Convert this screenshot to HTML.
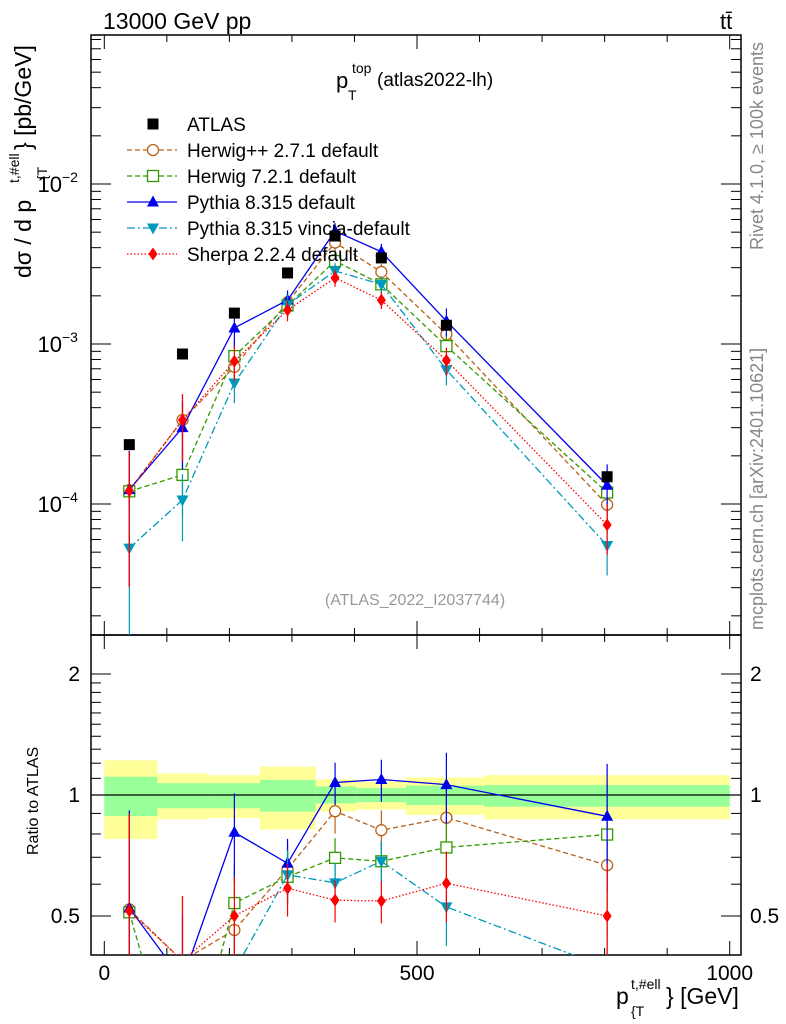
<!DOCTYPE html>
<html><head><meta charset="utf-8"><style>
html,body{margin:0;padding:0;background:#fff;overflow:hidden;width:786px;height:1024px}
svg{display:block;font-family:"Liberation Sans",sans-serif}
</style></head><body>
<svg id="c" width="786" height="1024" viewBox="0 0 786 1024">
<defs>
<clipPath id="cm"><rect x="91" y="35" width="650" height="600"/></clipPath>
<clipPath id="cr"><rect x="91" y="635" width="650" height="320"/></clipPath>
</defs>
<text x="103" y="29" font-size="23">13000 GeV pp</text>
<text x="720" y="29" font-size="22">tt̄</text>
<g>
<text x="336" y="88" font-size="22">p</text>
<text x="352" y="73" font-size="14">top</text>
<text x="348" y="100" font-size="14">T</text>
<text x="377" y="86" font-size="19">(atlas2022-lh)</text>
</g>
<text transform="translate(763,250) rotate(-90)" font-size="18" fill="#888">Rivet 4.1.0, ≥ 100k events</text>
<text transform="translate(763,630) rotate(-90)" font-size="18" fill="#888">mcplots.cern.ch [arXiv:2401.10621]</text>
<text x="415" y="605" font-size="16" fill="#999" text-anchor="middle">(ATLAS_2022_I2037744)</text>
<g>
<text transform="translate(31,278) rotate(-90)" font-size="23">dσ / d p</text>
<text transform="translate(31,150) rotate(-90)" font-size="23">} [pb/GeV]</text>
<text transform="translate(19,183) rotate(-90)" font-size="14">t,#ell</text>
<text transform="translate(47,180) rotate(-90)" font-size="14">{T</text>
</g>
<text transform="translate(38,855) rotate(-90)" font-size="16">Ratio to ATLAS</text>
<g>
<text x="616" y="1004" font-size="23">p</text>
<text x="631" y="989" font-size="14">t,#ell</text>
<text x="631" y="1016" font-size="14">{T</text>
<text x="666" y="1004" font-size="23">} [GeV]</text>
</g>
<g id="bands"></g><g id="axes"></g><g id="series"></g><g id="legend"></g>
</svg>
<script>
const xCenters=[40,125,208,293,369,443,547,804];
const binEdges=[0,85,166,249,338,403,482,607,1000];
const atlas=[2.35e-4,8.66e-4,1.56e-3,2.78e-3,4.73e-3,3.45e-3,1.31e-3,1.48e-4];
const herwigpp=[1.22e-4,3.35e-4,7.2e-4,1.82e-3,4.31e-3,2.82e-3,1.15e-3,9.9e-5];
const herwig7=[1.2e-4,1.52e-4,8.4e-4,1.74e-3,3.3e-3,2.36e-3,9.7e-4,1.18e-4];
const pythia=[1.23e-4,3.0e-4,1.26e-3,1.88e-3,5.08e-3,3.77e-3,1.39e-3,1.31e-4];
const vincia=[5.3e-5,1.06e-4,5.7e-4,1.76e-3,2.86e-3,2.36e-3,6.9e-4,5.5e-5];
const sherpa=[1.21e-4,3.35e-4,7.8e-4,1.63e-3,2.59e-3,1.88e-3,7.9e-4,7.4e-5];
const mcRelErr=[0.75,0.45,0.25,0.15,0.12,0.12,0.2,0.35];
const bandOuterHi=[1.22,1.13,1.12,1.176,1.094,1.08,1.106,1.12];
const bandOuterLo=[0.777,0.87,0.876,0.82,0.91,0.92,0.892,0.87];
const bandInnerHi=[1.11,1.07,1.07,1.09,1.05,1.04,1.055,1.059];
const bandInnerLo=[0.886,0.927,0.927,0.909,0.953,0.96,0.944,0.935];
const yTickLabels=["10","10","10"];
const NS="http://www.w3.org/2000/svg";
const X=v=>104.3+v*0.6254;
const Y=v=>344-(Math.log10(v)+3)*160;
const R=v=>795-Math.log10(v)*402;
function mk(tag,attrs,parent){const e=document.createElementNS(NS,tag);for(const k in attrs)e.setAttribute(k,attrs[k]);parent.appendChild(e);return e;}
const bands=document.getElementById('bands'),axes=document.getElementById('axes'),ser=document.getElementById('series'),leg=document.getElementById('legend');
for(let i=0;i<atlas.length;i++){
 const x0=X(binEdges[i]),x1=X(binEdges[i+1]);
 let b=mk('rect',{x:x0,y:R(bandOuterHi[i]),width:x1-x0,height:R(bandOuterLo[i])-R(bandOuterHi[i]),fill:'#ffff99'},bands);
 
 
 b=mk('rect',{x:x0,y:R(bandInnerHi[i]),width:x1-x0,height:R(bandInnerLo[i])-R(bandInnerHi[i]),fill:'#99ff99'},bands);
 
 
}
let l1=mk('line',{x1:91,x2:741,y1:R(1),y2:R(1),stroke:'#000','stroke-width':1.2},bands);


let f=mk('rect',{x:91,y:35,width:650,height:600,fill:'none',stroke:'#000','stroke-width':1.5},axes);


f=mk('rect',{x:91,y:635,width:650,height:320,fill:'none',stroke:'#000','stroke-width':1.5},axes);


function tick(x1,y1,x2,y2){const t=mk('line',{x1,y1,x2,y2,stroke:'#000','stroke-width':1},axes);
 
 }
for(let v=0;v<=1000;v+=100){const x=X(v),L=v%500==0?14:7;
 tick(x,635,x,635-L);tick(x,35,x,35+L);tick(x,955,x,955-L);tick(x,635,x,635+L);}
[0,500,1000].forEach(v=>{const t=mk('text',{x:X(v),y:980,'font-size':21,'text-anchor':'middle'},axes);t.textContent=v;
 
 });
for(let e=-5;e<=-1;e++)for(let m=1;m<10;m++){const v=m*Math.pow(10,e),y=Y(v);if(y<35||y>635)continue;const L=m==1?20:10;tick(91,y,91+L,y);tick(741,y,741-L,y);}
[-2,-3,-4].forEach((e,i)=>{const t=mk('text',{x:62,y:Y(Math.pow(10,e))+8,'font-size':22,'text-anchor':'end'},axes);t.textContent=yTickLabels[i];
 const s=mk('text',{x:62,y:Y(Math.pow(10,e))-2,'font-size':14},axes);s.textContent='−'+(-e);
 
 
 
 });
[0.5,0.6,0.7,0.8,0.9,1,1.1,1.2,1.3,1.4,1.5,1.6,1.7,1.8,1.9,2].forEach(v=>{const y=R(v),L=(v==0.5||v==1||v==2)?20:10;tick(91,y,91+L,y);tick(741,y,741-L,y);});
[0.5,1,2].forEach(v=>{[[80,'end'],[750,'start']].forEach(p=>{const t=mk('text',{x:p[0],y:R(v)+7,'font-size':21,'text-anchor':p[1]},axes);t.textContent=v;
 
 });});
function marker(g,type,x,y,col){
 let e;
 if(type=='sq')e=mk('rect',{x:x-5.5,y:y-5.5,width:11,height:11,fill:'#000'},g);
 else if(type=='circ')e=mk('circle',{cx:x,cy:y,r:5.5,fill:'#fff',stroke:col,'stroke-width':1.3},g);
 else if(type=='osq')e=mk('rect',{x:x-5.5,y:y-5.5,width:11,height:11,fill:'#fff',stroke:col,'stroke-width':1.3},g);
 else if(type=='tup')e=mk('path',{d:`M${x} ${y-6.5}L${x+6} ${y+4.5}L${x-6} ${y+4.5}Z`,fill:col},g);
 else if(type=='tdn')e=mk('path',{d:`M${x} ${y+6.5}L${x+6} ${y-4.5}L${x-6} ${y-4.5}Z`,fill:col},g);
 else e=mk('path',{d:`M${x} ${y-6.5}L${x+4.5} ${y}L${x} ${y+6.5}L${x-4.5} ${y}Z`,fill:col},g);
 
 
}
const series=[
 {n:'herwigpp',d:herwigpp,c:'#b8621b',m:'circ',da:'5,3',lab:'Herwig++ 2.7.1 default'},
 {n:'herwig7',d:herwig7,c:'#339900',m:'osq',da:'5,3',lab:'Herwig 7.2.1 default'},
 {n:'pythia',d:pythia,c:'#0000ee',m:'tup',da:'',lab:'Pythia 8.315 default'},
 {n:'vincia',d:vincia,c:'#0099bb',m:'tdn',da:'8,3,2,3',lab:'Pythia 8.315 vincia-default'},
 {n:'sherpa',d:sherpa,c:'#ff0000',m:'dia',da:'1.5,2',lab:'Sherpa 2.2.4 default'}];
series.forEach(s=>{
 [['main','cm',Y],['ratio','cr',R]].forEach(([p,clip,fy])=>{
  const g=mk('g',{'clip-path':`url(#${clip})`},ser);
  
  
  const val=i=>p=='main'?s.d[i]:s.d[i]/atlas[i];
  for(let i=0;i<s.d.length;i++){const v=val(i),x=X(xCenters[i]);const lo=Math.max(v*(1-mcRelErr[i]),1e-7),hi=v*(1+mcRelErr[i]);
   const e=mk('line',{x1:x,x2:x,y1:fy(lo),y2:fy(hi),stroke:s.c,'stroke-width':1.2},g);
   
   }
  const pts=s.d.map((_,i)=>X(xCenters[i])+','+fy(val(i))).join(' ');
  const pl=mk('polyline',{points:pts,fill:'none',stroke:s.c,'stroke-width':1.3,'stroke-dasharray':s.da},g);
  
  
  s.d.forEach((_,i)=>marker(g,s.m,X(xCenters[i]),fy(val(i)),s.c));
 });
});
const ga=mk('g',{'clip-path':'url(#cm)'},ser);


atlas.forEach((v,i)=>marker(ga,'sq',X(xCenters[i]),Y(v),'#000'));
const items=[{m:'sq',c:'#000',lab:'ATLAS',da:null}].concat(series.map(s=>({m:s.m,c:s.c,lab:s.lab,da:s.da})));
items.forEach((it,i)=>{const y=124+i*26;const g=mk('g',{},leg);
 
 
 if(it.da!==null){const l=mk('line',{x1:127,x2:177,y1:y,y2:y,stroke:it.c,'stroke-width':1.3,'stroke-dasharray':it.da},g);
  
  }
 marker(g,it.m,153,y,it.c);
 const t=mk('text',{x:187,y:y+7,'font-size':19},g);t.textContent=it.lab;
 
 });
</script>
</body></html>
